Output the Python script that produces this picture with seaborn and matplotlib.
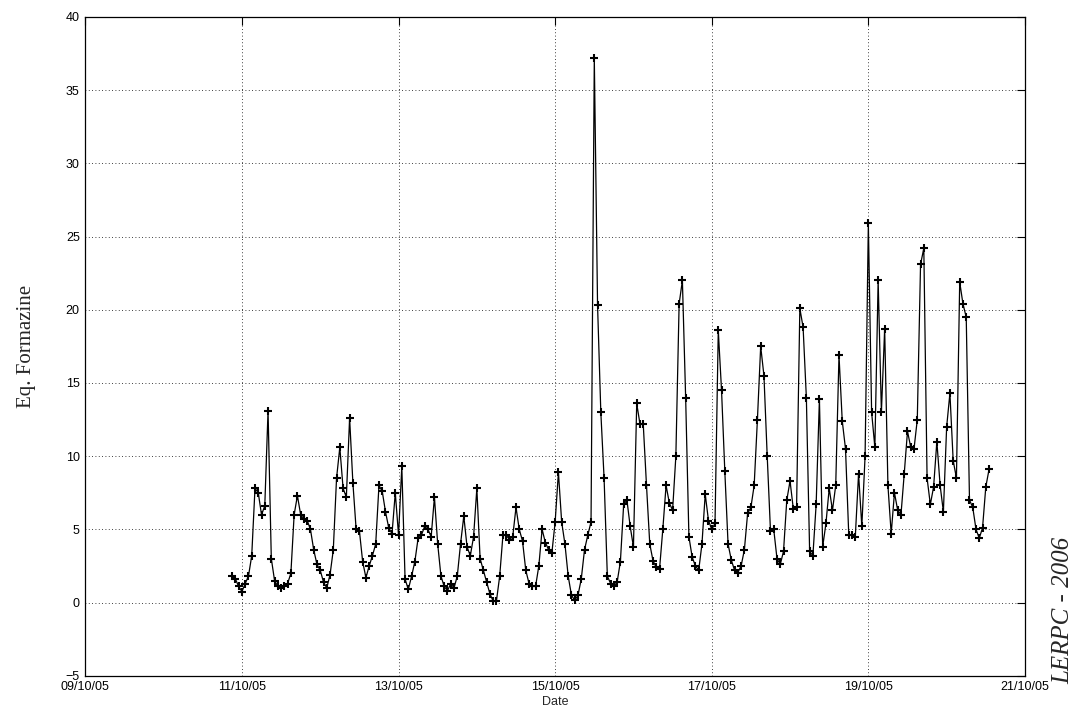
import numpy as np
import pandas as pd
import matplotlib
matplotlib.use("Agg")
import matplotlib.pyplot as plt
import matplotlib.dates as mdates
import seaborn as sns

# Hourly turbidity readings (Eq. Formazine), starting 10/10/05 21:00
vals_10 = [1.8, 1.6, 1.1]
vals_11 = [0.75, 1.3, 1.8, 3.2, 7.8, 7.5, 6.0, 6.6, 13.1, 3.0, 1.5, 1.1,
           1.0, 1.1, 1.3, 2.0, 6.0, 7.3, 6.0, 5.7, 5.6, 5.0, 3.6, 2.6]
vals_12 = [2.2, 1.4, 1.0, 1.9, 3.6, 8.5, 10.6, 7.8, 7.2, 12.6, 8.2, 5.0,
           4.9, 2.8, 1.7, 2.5, 3.2, 4.0, 8.0, 7.6, 6.2, 5.1, 4.7, 7.5]
vals_13 = [4.6, 9.3, 1.6, 0.9, 1.8, 2.8, 4.4, 4.6, 5.2, 5.0, 4.5, 7.2,
           4.0, 1.8, 1.1, 0.8, 1.3, 1.0, 1.8, 4.0, 5.9, 3.8, 3.2, 4.5]
vals_14 = [7.8, 3.0, 2.2, 1.4, 0.6, 0.1, 0.1, 1.8, 4.6, 4.6, 4.3, 4.5,
           6.5, 5.0, 4.2, 2.2, 1.3, 1.1, 1.1, 2.5, 5.0, 4.1, 3.6, 3.4]
vals_15 = [5.5, 8.9, 5.5, 4.0, 1.8, 0.5, 0.15, 0.5, 1.6, 3.6, 4.6, 5.5,
           37.2, 20.3, 13.0, 8.5, 1.8, 1.3, 1.1, 1.4, 2.8, 6.7, 7.0, 5.2]
vals_16 = [3.8, 13.6, 12.2, 12.2, 8.0, 4.0, 2.85, 2.4, 2.3, 5.0, 8.0, 6.8,
           6.3, 10.0, 20.4, 22.0, 14.0, 4.5, 3.1, 2.5, 2.2, 4.0, 7.4, 5.6]
vals_17 = [5.0, 5.4, 18.6, 14.5, 9.0, 4.0, 2.9, 2.2, 2.05, 2.5, 3.6, 6.1,
           6.5, 8.0, 12.5, 17.5, 15.5, 10.0, 4.9, 5.0, 3.0, 2.6, 3.5, 7.0]
vals_18 = [8.3, 6.4, 6.5, 20.1, 18.8, 14.0, 3.5, 3.2, 6.7, 13.9, 3.8, 5.4,
           7.8, 6.3, 8.0, 16.9, 12.4, 10.5, 4.6, 4.6, 4.5, 8.8, 5.2, 10.0]
vals_19 = [25.9, 13.0, 10.6, 22.0, 13.0, 18.7, 8.0, 4.7, 7.5, 6.3, 6.0, 8.8,
           11.7, 10.6, 10.5, 12.5, 23.1, 24.2, 8.5, 6.7, 7.9, 11.0, 8.0, 6.2]
vals_20 = [12.0, 14.3, 9.7, 8.5, 21.9, 20.4, 19.5, 7.0, 6.5, 5.0, 4.4, 5.1,
           7.9, 9.1]

values = vals_10 + vals_11 + vals_12 + vals_13 + vals_14 + vals_15 + \
    vals_16 + vals_17 + vals_18 + vals_19 + vals_20
times = pd.date_range("2005-10-10 21:00", periods=len(values), freq="h")
df = pd.DataFrame({"Date": times, "Eq. Formazine": values})

x_ticks = pd.date_range("2005-10-09", "2005-10-21", freq="2D")
y_ticks = [-5, 0, 5, 10, 15, 20, 25, 30, 35, 40]

sns.set_style("white")
plt.rcParams["font.family"] = ["Liberation Sans", "DejaVu Sans"]

fig = plt.figure(figsize=(10.83, 7.14), dpi=100)
ax = fig.add_axes([0.0788, 0.0536, 0.8676, 0.9226])

sns.lineplot(data=df, x="Date", y="Eq. Formazine", ax=ax, color="black",
             linewidth=0.9, marker="+", markersize=5.5, markeredgewidth=1.5,
             markeredgecolor="black")

ax.set_xlim(x_ticks[0], x_ticks[-1])
ax.set_ylim(-5, 40)
ax.set_xticks(x_ticks)
ax.set_yticks(y_ticks)
ax.xaxis.set_major_formatter(mdates.DateFormatter("%d/%m/%y"))
ax.tick_params(direction="in", length=5.5, width=0.8, top=True, right=True,
               labelsize=9, colors="black")
ax.tick_params(axis="x", pad=4)
ax.tick_params(axis="y", pad=4)
for s in ax.spines.values():
    s.set_visible(True)
    s.set_color("black")
    s.set_linewidth(0.9)
ax.grid(True, color="black", linestyle=(0, (1, 3)), linewidth=0.6)

ax.set_xlabel("Date", fontsize=9, labelpad=2)
ax.set_ylabel("Eq. Formazine", fontsize=15, family="Liberation Serif")
ax.yaxis.set_label_coords(-0.052, 0.5)

fig.text(1063 / 1083, 1 - 610 / 714, "LERPC - 2006", rotation=90,
         ha="center", va="center", fontsize=18, style="italic",
         family="Liberation Serif")

fig.savefig("out.png", dpi=100, facecolor="white")
